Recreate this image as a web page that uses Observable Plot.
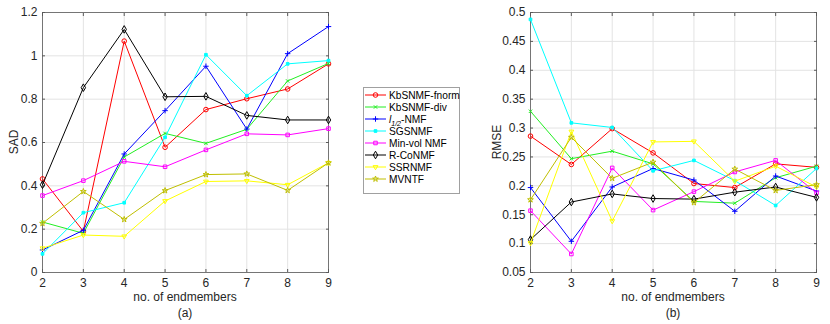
<!DOCTYPE html>
<html><head><meta charset="utf-8">
<script src="https://cdn.jsdelivr.net/npm/d3@7"></script>
<script src="https://cdn.jsdelivr.net/npm/@observablehq/plot@0.6"></script>
<style>
body{margin:0;background:#fff;font-family:"Liberation Sans",Arial,sans-serif;}
#wrap{position:relative;width:830px;height:324px;overflow:hidden;}
.abs{position:absolute;}
.lbl{position:absolute;font-size:12px;color:#262626;white-space:nowrap;}
</style></head>
<body><div id="wrap"></div>
<script>
const endmembers = [2, 3, 4, 5, 6, 7, 8, 9];
const methods = ["KbSNMF-fnorm", "KbSNMF-div", "l1/2-NMF", "SGSNMF", "Min-vol NMF", "R-CoNMF", "SSRNMF", "MVNTF"];
const colors = ["#ff0000", "#22ee22", "#0000ff", "#00ffff", "#ff00ff", "#000000", "#ffff00", "#bfbf00"];
const symbols = ["circle", "times", "plus", "square", "square", "diamond", "triangleDown", "star"];

// SAD values (panel a)
const sadKbSNMFfnorm = [0.432, 0.190, 1.068, 0.578, 0.752, 0.802, 0.847, 0.963];
const sadKbSNMFdiv   = [0.233, 0.181, 0.533, 0.642, 0.596, 0.661, 0.884, 0.965];
const sadL12NMF      = [0.104, 0.195, 0.547, 0.747, 0.952, 0.662, 1.010, 1.135];
const sadSGSNMF      = [0.086, 0.276, 0.322, 0.624, 1.005, 0.816, 0.963, 0.978];
const sadMinVolNMF   = [0.355, 0.424, 0.513, 0.488, 0.566, 0.640, 0.635, 0.664];
const sadRCoNMF      = [0.405, 0.853, 1.122, 0.811, 0.813, 0.725, 0.704, 0.704];
const sadSSRNMF      = [0.112, 0.173, 0.167, 0.330, 0.420, 0.423, 0.405, 0.506];
const sadMVNTF       = [0.227, 0.374, 0.245, 0.378, 0.452, 0.455, 0.379, 0.506];

// RMSE values (panel b)
const rmseKbSNMFfnorm = [0.286, 0.237, 0.299, 0.257, 0.204, 0.197, 0.238, 0.232];
const rmseKbSNMFdiv   = [0.329, 0.247, 0.260, 0.238, 0.173, 0.170, 0.214, 0.234];
const rmseL12NMF      = [0.197, 0.104, 0.198, 0.230, 0.210, 0.156, 0.217, 0.191];
const rmseSGSNMF      = [0.488, 0.309, 0.301, 0.226, 0.244, 0.209, 0.166, 0.230];
const rmseMinVolNMF   = [0.157, 0.082, 0.231, 0.158, 0.190, 0.224, 0.244, 0.188];
const rmseRCoNMF      = [0.107, 0.172, 0.186, 0.178, 0.177, 0.189, 0.198, 0.180];
const rmseSSRNMF      = [0.101, 0.294, 0.139, 0.276, 0.277, 0.208, 0.234, 0.198];
const rmseMVNTF       = [0.176, 0.284, 0.213, 0.241, 0.171, 0.229, 0.192, 0.202];

const sadTicks = [0, 0.2, 0.4, 0.6, 0.8, 1, 1.2];
const rmseTicks = [0.05, 0.1, 0.15, 0.2, 0.25, 0.3, 0.35, 0.4, 0.45, 0.5];

const sadSeries = [sadKbSNMFfnorm, sadKbSNMFdiv, sadL12NMF, sadSGSNMF, sadMinVolNMF, sadRCoNMF, sadSSRNMF, sadMVNTF];
const rmseSeries = [rmseKbSNMFfnorm, rmseKbSNMFdiv, rmseL12NMF, rmseSGSNMF, rmseMinVolNMF, rmseRCoNMF, rmseSSRNMF, rmseMVNTF];

// marker radius per method (display only)
const markerR = [2.3, 1.7, 1.9, 1.5, 2.0, 2.3, 2.2, 1.8];

const triangleDown = {
  draw(context, size) {
    const r = Math.sqrt(size / Math.PI) * 1.25;
    context.moveTo(-r * 0.866, -r * 0.5);
    context.lineTo(r * 0.866, -r * 0.5);
    context.lineTo(0, r);
    context.closePath();
  }
};
function sym(i) { return symbols[i] === "triangleDown" ? triangleDown : symbols[i]; }
function filled(i) { return i === 3; }

function toRows(series) {
  const rows = [];
  series.forEach((vals, i) => vals.forEach((v, j) => rows.push({method: methods[i], k: i, x: endmembers[j], y: v})));
  return rows;
}

function panel(series, ticks, yDomain, opts) {
  const rows = toRows(series);
  const marks = [
    Plot.gridX(endmembers, {stroke: "#e3e3e3", strokeOpacity: 1}),
    Plot.gridY(ticks, {stroke: "#e3e3e3", strokeOpacity: 1}),
    Plot.frame({stroke: "#5a5a5a", strokeWidth: 0.8}),
    Plot.axisX({ticks: endmembers, tickSize: -3, tickPadding: 9, stroke: "#5a5a5a", fill: "#262626", tickFormat: d => String(d), label: null}),
    Plot.axisX({anchor: "top", ticks: endmembers, tickSize: -3, tickFormat: () => "", stroke: "#5a5a5a", label: null}),
    Plot.axisY({ticks, tickSize: -3, tickPadding: 8, stroke: "#5a5a5a", fill: "#262626", tickFormat: d => String(+d.toFixed(2)), label: null}),
    Plot.axisY({anchor: "right", ticks, tickSize: -3, tickFormat: () => "", stroke: "#5a5a5a", label: null})
  ];
  methods.forEach((m, i) => {
    const r = rows.filter(d => d.k === i);
    marks.push(Plot.line(r, {x: "x", y: "y", stroke: colors[i], strokeWidth: 1}));
    marks.push(Plot.dot(r, {x: "x", y: "y", symbol: sym(i), r: markerR[i], stroke: colors[i], strokeWidth: 1, fill: filled(i) ? colors[i] : "none"}));
  });
  return Plot.plot({
    width: opts.width, height: 324,
    marginLeft: opts.ml, marginRight: opts.mr, marginTop: 12, marginBottom: 52,
    x: {domain: [2, 9]},
    y: {domain: yDomain},
    style: {fontFamily: "'Liberation Sans', Arial, sans-serif", fontSize: "12px", background: "transparent", overflow: "visible"},
    marks
  });
}

const wrap = document.getElementById("wrap");
const p1 = panel(sadSeries, sadTicks, [0, 1.2], {width: 340, ml: 42, mr: 12});
p1.classList.add("abs"); p1.style.left = "0px"; p1.style.top = "0px";
wrap.appendChild(p1);
const p2 = panel(rmseSeries, rmseTicks, [0.05, 0.5], {width: 370, ml: 70, mr: 14});
p2.classList.add("abs"); p2.style.left = "460px"; p2.style.top = "0px";
wrap.appendChild(p2);

function label(text, x, y, rot) {
  const d = document.createElement("div");
  d.className = "lbl";
  d.textContent = text;
  d.style.left = x + "px"; d.style.top = y + "px";
  d.style.transform = "translate(-50%,-50%)" + (rot ? " rotate(-90deg)" : "");
  wrap.appendChild(d);
}
label("no. of endmembers", 185, 297);
label("(a)", 185, 313);
label("SAD", 14, 142, true);
label("no. of endmembers", 673, 297);
label("(b)", 673, 313);
label("RMSE", 497, 142, true);

// legend
const leg = d3.select(wrap).append("svg").attr("class", "abs")
  .style("left", "363px").style("top", "87px").attr("width", 97).attr("height", 107);
leg.append("rect").attr("x", 0.5).attr("y", 0.5).attr("width", 96).attr("height", 106)
  .attr("fill", "#fff").attr("stroke", "#a0a0a0").attr("stroke-width", 1);
const d3sym = {circle: d3.symbolCircle, times: d3.symbolTimes, plus: d3.symbolPlus, square: d3.symbolSquare, diamond: d3.symbolDiamond, star: d3.symbolStar};
methods.forEach((m, i) => {
  const y = 8 + i * 12;
  const g = leg.append("g");
  g.append("line").attr("x1", 2).attr("x2", 23).attr("y1", y).attr("y2", y).attr("stroke", colors[i]).attr("stroke-width", 1);
  const r = markerR[i];
  const s = symbols[i] === "triangleDown" ? triangleDown : d3sym[symbols[i]];
  g.append("path").attr("transform", `translate(12.5,${y})`)
    .attr("d", d3.symbol(s, r * r * Math.PI)())
    .attr("fill", filled(i) ? colors[i] : "none").attr("stroke", colors[i]).attr("stroke-width", 1);
  const t = g.append("text").attr("x", 26).attr("y", y).attr("dy", "0.35em")
    .attr("font-family", "'Liberation Sans', Arial, sans-serif").attr("font-size", 10.2).attr("fill", "#000");
  if (i === 2) {
    t.append("tspan").attr("font-style", "italic").text("l");
    t.append("tspan").attr("font-size", 7).attr("font-style", "italic").attr("dy", "0.45em").text("1/2");
    t.append("tspan").attr("dy", "-0.3em").text("-NMF");
  } else {
    t.text(m);
  }
});
</script>
</body></html>
